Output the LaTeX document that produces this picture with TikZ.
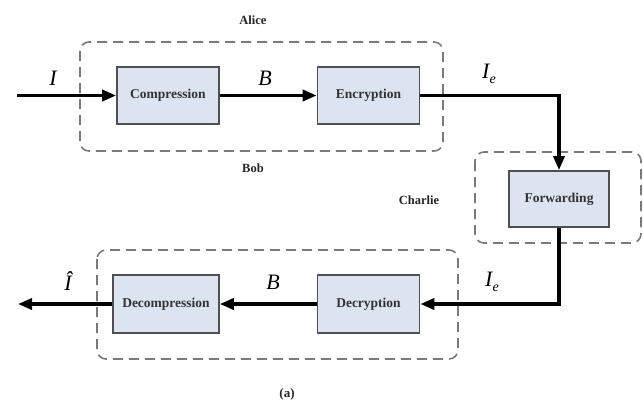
\documentclass[tikz,border=0pt]{standalone}
\usepackage{fontspec}
\setmainfont{Liberation Serif}
\usetikzlibrary{arrows.meta}
\definecolor{boxfill}{HTML}{DDE4F1}
\definecolor{boxdraw}{HTML}{505050}
\definecolor{dashgray}{HTML}{7A7A7A}
\begin{document}
\begin{tikzpicture}[x=1pt,y=-1pt,
  blk/.style={draw=boxdraw,line width=1.6pt,fill=boxfill,minimum width=102pt,minimum height=57pt,inner sep=0pt,font=\fontsize{13.5}{15}\selectfont\bfseries,text=black!80},
  grp/.style={draw=dashgray,line width=1.6pt,dash pattern=on 10pt off 6pt,rounded corners=9pt},
  flow/.style={line width=3.5pt,-{Triangle[length=14pt,width=11pt]}},
  sym/.style={font=\fontsize{22}{24}\selectfont\itshape},
  who/.style={font=\fontsize{12.5}{14}\selectfont\bfseries,text=black!85}]
\useasboundingbox[fill=white] (0,0) rectangle (643,405);
% groups
\draw[grp] (80,42) rectangle (443,151);
\draw[grp] (475,152) rectangle (641,243);
\draw[grp] (97,250) rectangle (458,359);
% blocks
\node[blk] (comp) at (168,95.5) {Compression};
\node[blk] (enc) at (368.5,95.5) {Encryption};
\node[blk,minimum width=100pt,minimum height=56pt] (fwd) at (559,199) {Forwarding};
\node[blk,minimum height=58pt] (dec) at (368.5,304) {Decryption};
\node[blk,minimum width=106pt,minimum height=58pt] (decomp) at (166,304) {Decompression};
\coordinate (in) at (17,95.5);
\coordinate (out) at (18,304);
% connectors
\draw[flow] (in) -- (comp);
\draw[flow] (comp) -- (enc);
\draw[flow] (enc.east) -| (fwd.north);
\draw[flow] (fwd.south) |- (dec.east);
\draw[flow] (dec) -- (decomp);
\draw[flow] (decomp.west) -- (out);
% labels
\node[sym] (lI) at (53,78) {I};
\node[sym] (lB1) at (265,78) {B};
\node[sym] (lIe1) at (489,74) {I\raisebox{-0.45ex}{\fontsize{14}{16}\selectfont e}};
\node[sym] (lIh) at (68,281) {Î};
\node[sym] (lB2) at (273,282) {B};
\node[sym] (lIe2) at (492,282) {I\raisebox{-0.45ex}{\fontsize{14}{16}\selectfont e}};
\node[who] (alice) at (253,20) {Alice};
\node[who] (charlie) at (419,200) {Charlie};
\node[who] (bob) at (253,168) {Bob};
\node[who,font=\fontsize{13}{15}\selectfont\bfseries] (cap) at (287,394) {(a)};
\end{tikzpicture}
\end{document}
